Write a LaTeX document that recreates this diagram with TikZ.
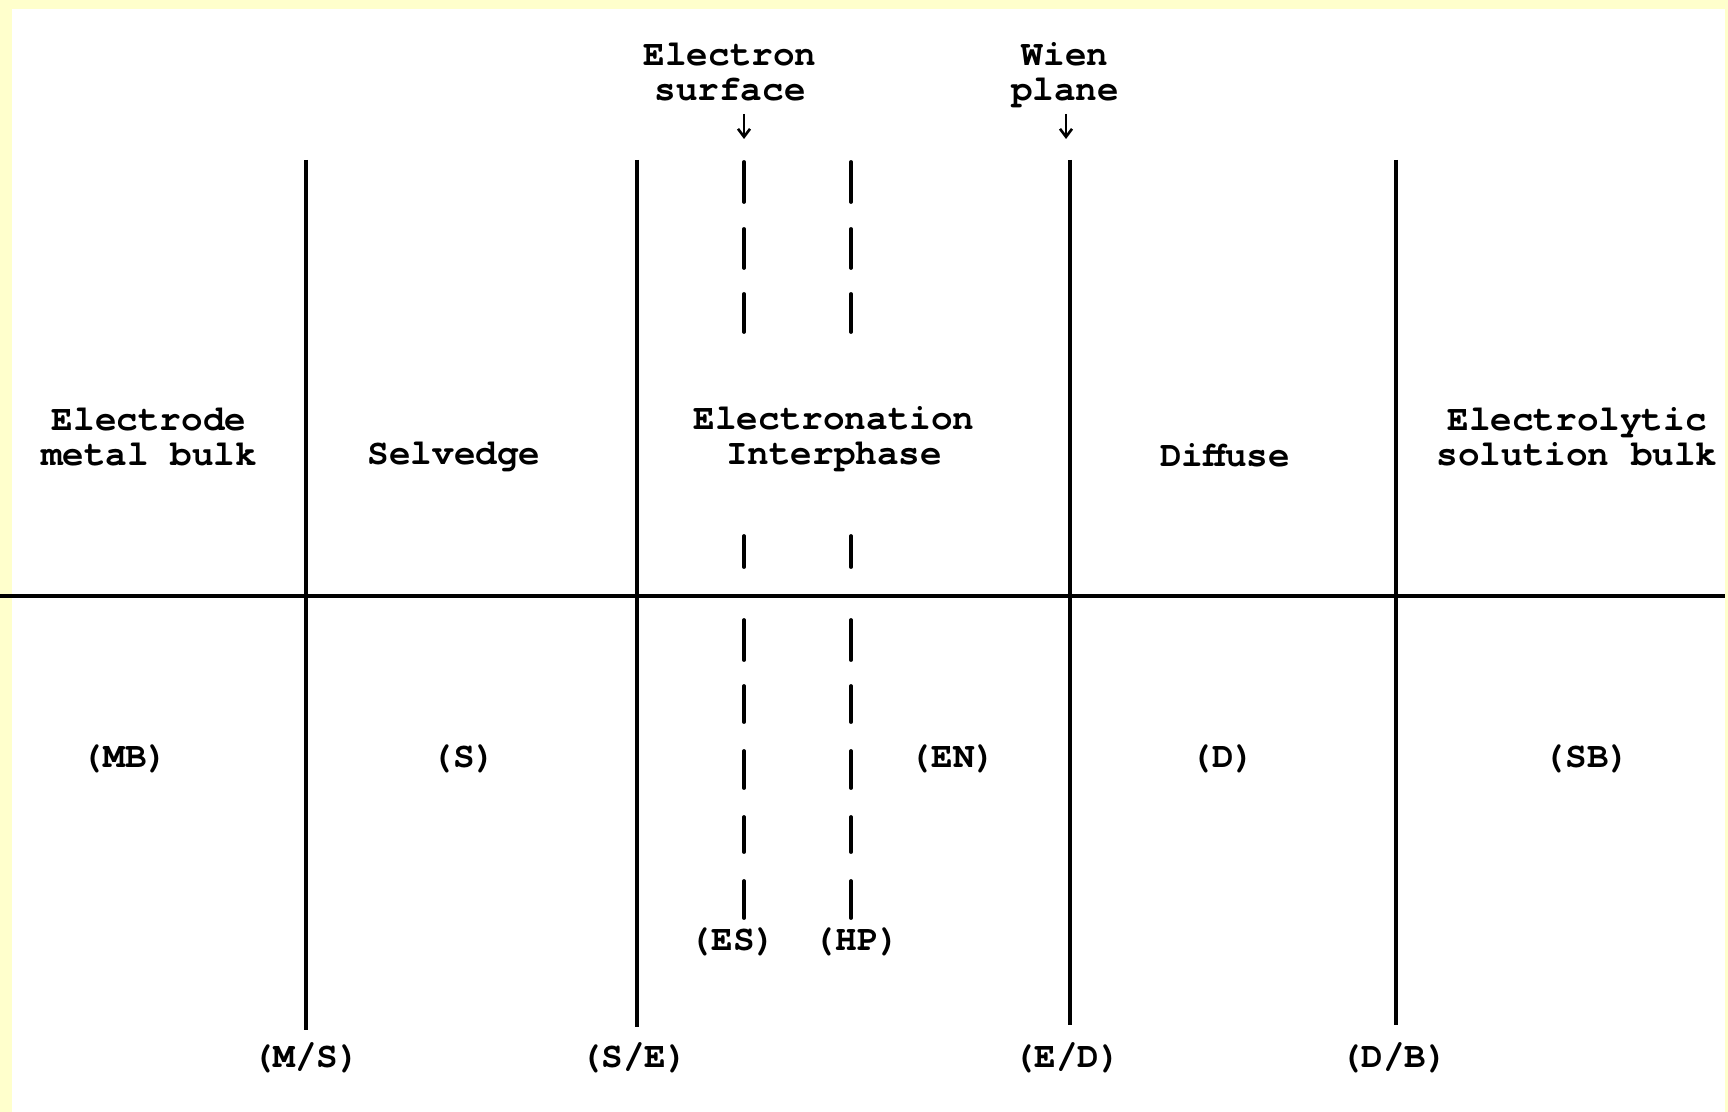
\documentclass[tikz,border=0pt]{standalone}
\usepackage{fontspec}
\setmonofont{TeX Gyre Cursor}
\usetikzlibrary{arrows.meta}
\definecolor{paper}{HTML}{FFFFCC}
\begin{document}
\begin{tikzpicture}[x=0.5pt,y=-0.5pt,
  lbl/.style={font=\ttfamily\bfseries\fontsize{18}{17.5}\selectfont, align=center, inner sep=0pt},
  wall/.style={line width=1.8pt},
  plane/.style={line width=1.9pt, line cap=round},
  axis/.style={line width=2pt},
  pointer/.style={line width=1.3pt, -{Straight Barb[length=4pt,width=6pt]}}]
% paper and frame
\fill[paper] (0,0) rectangle (1728,1112);
\fill[white] (12,9) rectangle (1725,1112);
\useasboundingbox (0,0) rectangle (1728,1112);

% horizontal axis
\draw[axis] (0,596) -- (1725,596);

% phase boundaries
\draw[wall] (306,160) -- (306,1030);
\draw[wall] (637,160) -- (637,1027);
\draw[wall] (1070,160) -- (1070,1025);
\draw[wall] (1396,160) -- (1396,1025);

% electron surface and Helmholtz plane (dashed)
\foreach \a/\b in {162/202, 229/268, 294/332, 536/567, 620/660, 686/722, 751/788, 817/852, 881/918}{
  \draw[plane] (744,\a) -- (744,\b);
  \draw[plane] (851,\a) -- (851,\b);
}

% top captions with pointers
\node[lbl] (es) at (730,72) {Electron\\surface};
\node[lbl] (wp) at (1065,75) {Wien\\plane};
\coordinate (esa) at (744,114);
\coordinate (esb) at (744,139);
\coordinate (wpa) at (1066,114);
\coordinate (wpb) at (1066,139);
\draw[pointer] (esa) -- (esb);
\draw[pointer] (wpa) -- (wpb);

% region names
\node[lbl] (mb) at (149,437) {Electrode\\metal bulk};
\node[lbl] (sv) at (454,457) {Selvedge};
\node[lbl] (ei) at (834,439) {Electronation\\Interphase};
\node[lbl] (df) at (1225,455) {Diffuse};
\node[lbl] (sb) at (1577,437) {Electrolytic\\solution bulk};

% region symbols
\node[lbl] (mbs) at (125,759) {(MB)};
\node[lbl] (svs) at (464,759) {(S)};
\node[lbl] (ens) at (953,759) {(EN)};
\node[lbl] (dfs) at (1223,759) {(D)};
\node[lbl] (sbs) at (1587,759) {(SB)};

% plane symbols
\node[lbl] (ess) at (733,942) {(ES)};
\node[lbl] (hps) at (857,942) {(HP)};

% boundary symbols
\node[lbl] (msb) at (306,1058) {(M/S)};
\node[lbl] (seb) at (634,1058) {(S/E)};
\node[lbl] (edb) at (1067,1058) {(E/D)};
\node[lbl] (dbb) at (1394,1058) {(D/B)};
\end{tikzpicture}
\end{document}
